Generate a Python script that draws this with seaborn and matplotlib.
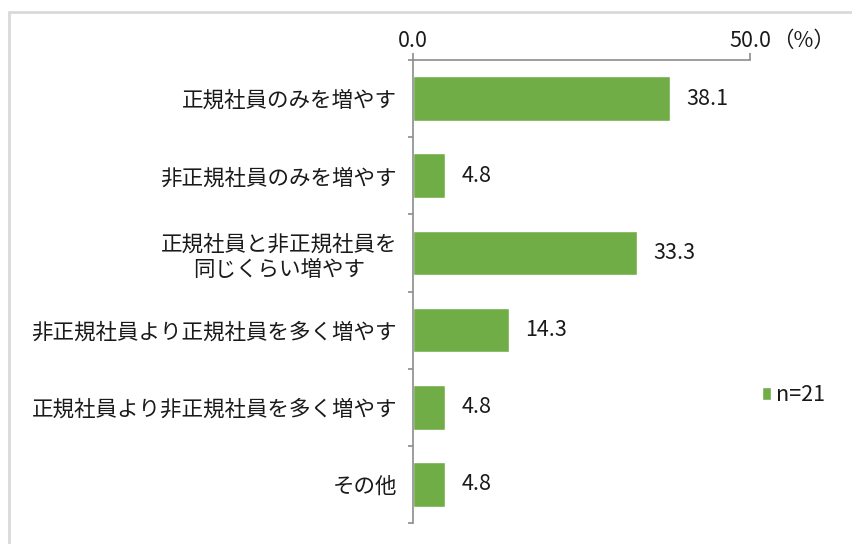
import matplotlib
matplotlib.use("Agg")
import matplotlib.pyplot as plt
from matplotlib.lines import Line2D
from matplotlib.ticker import FixedLocator
import seaborn as sns
import pandas as pd

categories = [
    "正規社員のみを増やす",
    "非正規社員のみを増やす",
    "正規社員と非正規社員を\n同じくらい増やす",
    "非正規社員より正規社員を多く増やす",
    "正規社員より非正規社員を多く増やす",
    "その他",
]
values = [38.1, 4.8, 33.3, 14.3, 4.8, 4.8]
x_ticks = [0, 50]
x_tick_labels = ["0.0", "50.0"]
series_label = "n=21"

sns.set_theme(style="white")
plt.rcParams["font.family"] = ["Noto Sans CJK JP", "DejaVu Sans"]

GREEN = "#70AD47"
AXIS = "#8c8c8c"
TEXT = "#1a1a1a"
FS = 15.5

df = pd.DataFrame({"item": categories, "pct": values})

fig = plt.figure(figsize=(8.53, 5.44), dpi=100)
ax = fig.add_axes([413 / 853, 1 - 523 / 544, (750 - 413) / 853, (523 - 60) / 544])

sns.barplot(data=df, x="pct", y="item", orient="h", color=GREEN,
            width=0.58, saturation=1, ax=ax, label=series_label)
if ax.get_legend() is not None:
    ax.get_legend().remove()

ax.set_xlim(0, 50)
ax.set_ylim(len(categories) - 0.5, -0.5)
ax.set_xlabel("")
ax.set_ylabel("")

# value labels next to each bar
for i, v in enumerate(values):
    ax.text(v + 2.4, i, f"{v:.1f}", va="center", ha="left",
            fontsize=FS, color=TEXT)

# x axis on top
ax.xaxis.tick_top()
ax.set_xticks(x_ticks)
ax.set_xticklabels(x_tick_labels, fontsize=FS, color=TEXT)
ax.tick_params(axis="x", direction="out", length=5, width=1.2,
               color=AXIS, pad=1)
ax.annotate("（%）", xy=(50, 1.0), xycoords=ax.get_xaxis_transform(),
            xytext=(16, 6), textcoords="offset points",
            ha="left", va="bottom", fontsize=FS, color=TEXT)

# category labels with divider ticks between groups
ax.set_yticks(range(len(categories)))
ax.set_yticklabels(categories, fontsize=FS, color=TEXT, multialignment="center")
ax.tick_params(axis="y", which="major", length=0, pad=11.5)
ax.yaxis.set_minor_locator(FixedLocator([i - 0.5 for i in range(len(categories) + 1)]))
ax.tick_params(axis="y", which="minor", direction="out", length=3.6,
               width=1.2, color=AXIS, left=True)

for side in ["right", "bottom"]:
    ax.spines[side].set_visible(False)
for side in ["left", "top"]:
    ax.spines[side].set_color(AXIS)
    ax.spines[side].set_linewidth(1.2)
ax.grid(False)

# legend on the right
handles, labels = ax.get_legend_handles_labels()
fig.legend(handles[:1], [series_label], loc="center left",
           bbox_to_anchor=(751 / 853, 1 - 395 / 544), frameon=False,
           handlelength=0.42, handleheight=0.55, handletextpad=0.25,
           fontsize=FS, labelcolor=TEXT, borderpad=0)

# outer frame (left and top edges)
frame_col = "#d9d9d9"
fig.add_artist(Line2D([8.5 / 853, 8.5 / 853], [0, 1 - 12 / 544],
                      transform=fig.transFigure, color=frame_col, lw=2))
fig.add_artist(Line2D([8.5 / 853, 1], [1 - 12 / 544, 1 - 12 / 544],
                      transform=fig.transFigure, color=frame_col, lw=2))

fig.savefig("out.png", dpi=100, facecolor="white")
